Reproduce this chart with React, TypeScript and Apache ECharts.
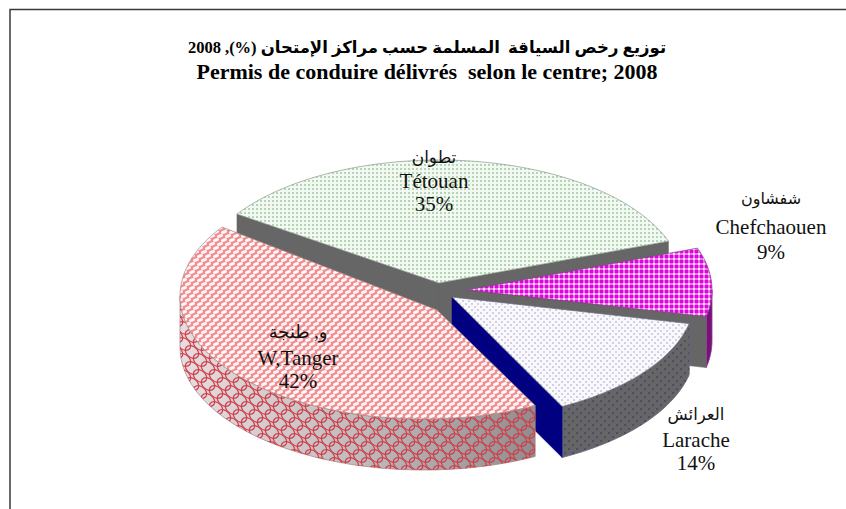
import React, { useEffect, useRef } from "react";
import * as echarts from "echarts";

const titleArabic = "\u202Bتوزيع رخص السياقة  المسلمة حسب مراكز الإمتحان (%), 2008\u202C";
const titleFrench = "Permis de conduire délivrés  selon le centre; 2008";

// Ordered as they go round the pie, anticlockwise from the Tétouan slice.
const namesFrench = ["Tétouan", "W,Tanger", "Larache", "Chefchaouen"];
const namesArabic = ["تطوان", "و, طنجة", "العرائش", "شفشاون"];
const shares = [35, 42, 14, 9];

const START_DEG = 19.9;
const RX = 244;
const RY = 123;
const DEPTH = 51;
const centers = [
  [439, 283],
  [424, 296],
  [451, 297],
  [468, 290],
];
const tips = [
  [439, 283],
  [437, 310],
  [452, 297],
  [467, 290],
];
const labelAnchors = [
  [434, 157, 181, 204],
  [298, 332, 358, 381],
  [696, 414, 440, 463],
  [771, 198, 227, 252],
];
const arabicSizes = [17, 18, 16.5, 16];

const makeTile = (w: number, h: number, paint: (c: CanvasRenderingContext2D) => void) => {
  const canvas = document.createElement("canvas");
  canvas.width = w;
  canvas.height = h;
  paint(canvas.getContext("2d") as CanvasRenderingContext2D);
  return { image: canvas, imageWidth: w, imageHeight: h, repeat: "repeat" };
};

const gridDots = (w: number, h: number, bg: string, fg: string, staggered: boolean) =>
  makeTile(w, h, (c) => {
    c.fillStyle = bg;
    c.fillRect(0, 0, w, h);
    c.fillStyle = fg;
    c.fillRect(0, 0, 2, 2);
    if (staggered) c.fillRect(w / 2, h / 2, 2, 2);
  });

const tileSpots = (w: number, h: number) => [
  [0, 0],
  [w, 0],
  [0, h],
  [w, h],
  [w / 2, h / 2],
];

const blobs = (w: number, h: number, lattice: string, blob: string, rx: number, ry: number, deg: number) =>
  makeTile(w, h, (c) => {
    c.fillStyle = lattice;
    c.fillRect(0, 0, w, h);
    c.fillStyle = blob;
    const t = (deg * Math.PI) / 180;
    tileSpots(w, h).forEach(([x, y]) => {
      c.beginPath();
      c.ellipse(x, y, rx, ry, t, 0, Math.PI * 2);
      c.fill();
    });
  });

const net = (w: number, h: number, color: string, rx: number, ry: number, deg: number, lw: number) =>
  makeTile(w, h, (c) => {
    c.clearRect(0, 0, w, h);
    c.strokeStyle = color;
    c.lineWidth = lw;
    const t = (deg * Math.PI) / 180;
    tileSpots(w, h).forEach(([x, y]) => {
      c.beginPath();
      c.ellipse(x, y, rx, ry, t, 0, Math.PI * 2);
      c.stroke();
    });
  });

const gingham = (paintBg: string, band: string, cross: string) =>
  makeTile(5, 5, (c) => {
    c.fillStyle = paintBg;
    c.fillRect(0, 0, 5, 5);
    c.fillStyle = band;
    c.fillRect(0, 0, 5, 3);
    c.fillRect(0, 0, 3, 5);
    c.fillStyle = cross;
    c.fillRect(0, 0, 3, 3);
  });

const ellipsePoint = (cx: number, cy: number, deg: number) => {
  const t = (deg * Math.PI) / 180;
  return [cx + RX * Math.cos(t), cy - RY * Math.sin(t)];
};

const arc = (cx: number, cy: number, from: number, to: number) => {
  const n = Math.max(2, Math.ceil(Math.abs(to - from) / 2));
  const pts: number[][] = [];
  for (let i = 0; i <= n; i++) pts.push(ellipsePoint(cx, cy, from + ((to - from) * i) / n));
  return pts;
};

const shifted = (pts: number[][], dy: number) => pts.map((p) => [p[0], p[1] + dy]);

export default function App() {
  const ref = useRef<HTMLDivElement>(null);
  useEffect(() => {
    const chart = echarts.init(ref.current as HTMLDivElement, undefined, { renderer: "svg" });
    const total = shares.reduce((a, b) => a + b, 0);
    const tops = [
      gridDots(4, 4, "#f2f9f2", "#b4d4b4", false),
      blobs(8, 8, "#ee8c92", "#fff6f4", 3.1, 1.7, -18),
      gridDots(6, 6, "#f9f9fd", "#d0d0e2", true),
      gingham("#ffe6ff", "#f070f0", "#d60cd6"),
    ];
    const wallBase = [
      "#666666",
      {
        type: "linear",
        x: 0,
        y: 0,
        x2: 1,
        y2: 0,
        colorStops: [
          { offset: 0, color: "#e6dede" },
          { offset: 0.5, color: "#bdbdbd" },
          { offset: 1, color: "#8e8e8e" },
        ],
      },
      "#666666",
      "#7a107a",
    ];
    const wallOver = [
      null,
      net(16, 16, "#d43c4c", 7.4, 5.4, 40, 1.2),
      gridDots(8, 8, "rgba(0,0,0,0)", "#4c4c6c", true),
      null,
    ];
    const faceColors = ["#666666", "#666666", "#000080", "#666666"];
    const edge = ["#8c988c", "#b08888", "#666677", "#8a3a8a"];
    // Paint order: back slices first, the slices nearest the viewer last.
    const order = [0, 3, 2, 1];

    const startOf = (idx: number) => {
      let a = START_DEG;
      for (let i = 0; i < idx; i++) a += (shares[i] / total) * 360;
      return a;
    };

    chart.setOption({
      animation: false,
      backgroundColor: "#ffffff",
      title: [
        {
          text: titleArabic,
          left: 422,
          top: 34,
          textAlign: "center",
          textStyle: { fontFamily: "'Liberation Serif','DejaVu Sans'", fontSize: 16.5, fontWeight: "bold", color: "#000" },
        },
        {
          text: titleFrench,
          left: 422,
          top: 55,
          textAlign: "center",
          textStyle: { fontFamily: "'Liberation Serif'", fontSize: 22, fontWeight: "bold", color: "#000" },
        },
      ],
      graphic: [
        {
          type: "polyline",
          shape: { points: [[10, 509], [10, 9.5], [846, 9.5]] },
          style: { stroke: "#3a3a3a", lineWidth: 1.5, fill: "none" },
        },
      ],
      series: [
        {
          type: "custom",
          coordinateSystem: "none",
          data: order.map((i) => ({ name: namesFrench[i], value: [i, shares[i]] })),
          renderItem: (_p: unknown, api: any) => {
            const i = api.value(0);
            const share = api.value(1);
            const from = startOf(i);
            const to = from + (share / total) * 360;
            const [cx, cy] = centers[i];
            const [tx, ty] = tips[i];
            const children: any[] = [];

            const normFrom = ((from % 360) + 360) % 360;
            const normTo = normFrom + (to - from);
            // Outer wall: the part of the rim in the lower half of the ellipse.
            const lo = Math.max(normFrom, 180);
            const hi = Math.min(normTo, 360);
            if (hi > lo) {
              const rim = arc(cx, cy, lo, hi);
              const points = [...rim, ...shifted(rim, DEPTH).reverse()];
              children.push({
                type: "polygon",
                shape: { points },
                style: { fill: wallBase[i], stroke: edge[i], lineWidth: 0.8 },
              });
              if (wallOver[i]) {
                children.push({ type: "polygon", shape: { points }, style: { fill: wallOver[i] } });
              }
            }
            // Radial faces that look towards the viewer.
            const face = (deg: number) => {
              const p = ellipsePoint(cx, cy, deg);
              children.push({
                type: "polygon",
                shape: { points: [[tx, ty], p, [p[0], p[1] + DEPTH], [tx, ty + DEPTH]] },
                style: { fill: faceColors[i], stroke: faceColors[i], lineWidth: 0.5 },
              });
            };
            if (i === 0) {
              face(from);
              face(to);
            }
            if (i === 2) face(from);
            if (i === 3) face(from);

            children.push({
              type: "polygon",
              shape: { points: [[tx, ty], ...arc(cx, cy, from, to)] },
              style: { fill: tops[i], stroke: edge[i], lineWidth: 0.7 },
            });

            const [lx, y1, y2, y3] = labelAnchors[i];
            const label = (text: string, y: number, size: number) => ({
              type: "text",
              z2: 100,
              style: {
                text,
                x: lx,
                y,
                align: "center",
                verticalAlign: "middle",
                fill: "#111",
                font: `${size}px 'Liberation Serif','DejaVu Sans'`,
              },
            });
            children.push(label(namesArabic[i], y1, arabicSizes[i]), label(namesFrench[i], y2, 21), label(`${share}%`, y3, 21));
            return { type: "group", children };
          },
        },
      ],
    });
    return () => chart.dispose();
  }, []);
  return <div ref={ref} style={{ position: "fixed", left: 0, top: 0, width: 846, height: 509 }} />;
}
